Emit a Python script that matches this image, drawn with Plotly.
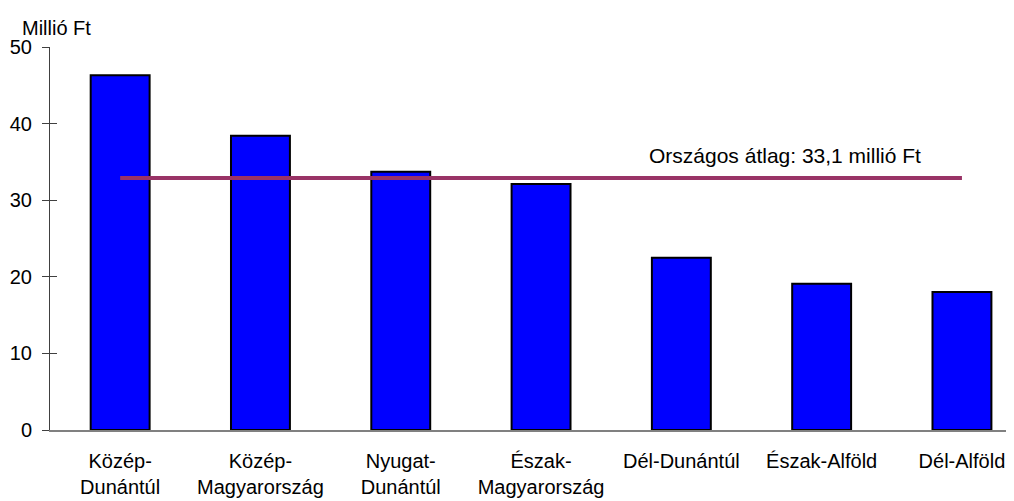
import plotly.graph_objects as go

categories = ["Közép-<br>Dunántúl", "Közép-<br>Magyarország", "Nyugat-<br>Dunántúl",
              "Észak-<br>Magyarország", "Dél-Dunántúl", "Észak-Alföld", "Dél-Alföld"]
values = [46.3, 38.4, 33.7, 32.1, 22.5, 19.1, 18.0]
average = 32.9
avg_label = "Országos átlag: 33,1 millió Ft"
y_title = "Millió Ft"
y_ticks = [0, 10, 20, 30, 40, 50]

FONT = "Arial, Liberation Sans, sans-serif"

fig = go.Figure()
fig.add_trace(go.Bar(
    x=categories, y=values, width=0.42,
    marker=dict(color="#0000FF", line=dict(color="#000000", width=2)),
    showlegend=False, hoverinfo="skip",
))
fig.add_trace(go.Scatter(
    x=[categories[0], categories[-1]], y=[average, average], mode="lines",
    line=dict(color="#993366", width=4), showlegend=False, hoverinfo="skip",
))
# invisible trace for the overlay axis (inside ticks)
fig.add_trace(go.Scatter(x=[categories[0]], y=[0], yaxis="y2", mode="markers",
                         marker=dict(opacity=0), showlegend=False, hoverinfo="skip"))

fig.update_layout(
    width=1014, height=501,
    margin=dict(l=42, r=8, t=39, b=79),
    paper_bgcolor="white", plot_bgcolor="white",
    font=dict(family=FONT, size=20, color="#000000"),
    xaxis=dict(
        type="category", range=[-0.5, 6.371], automargin=False,
        showline=True, linecolor="#808080", linewidth=2,
        ticks="", showgrid=False, zeroline=False,
        tickfont=dict(size=20), ticklabelstandoff=12,
    ),
    yaxis=dict(
        range=[0, 50], tickvals=y_ticks, showline=True, linecolor="#404040", linewidth=1,
        ticks="outside", ticklen=7, tickcolor="#404040", tickwidth=1, automargin=False,
        showgrid=False, zeroline=False, tickfont=dict(size=20),
        ticklabelstandoff=6,
    ),
    yaxis2=dict(
        range=[0, 50], tickvals=y_ticks, overlaying="y", side="left", automargin=False,
        ticks="inside", ticklen=7, tickcolor="#404040", tickwidth=1,
        showticklabels=False, showgrid=False, zeroline=False, showline=False,
    ),
    annotations=[
        dict(text=y_title, xref="paper", yref="paper", x=0, y=1.0, xshift=-30, yshift=6,
             xanchor="left", yanchor="bottom", showarrow=False, font=dict(size=20)),
        dict(text=avg_label, xref="x", yref="y", x=4.74, y=average, yshift=9,
             xanchor="center", yanchor="bottom", showarrow=False, font=dict(size=21)),
    ],
)

fig.write_html("out.html")
